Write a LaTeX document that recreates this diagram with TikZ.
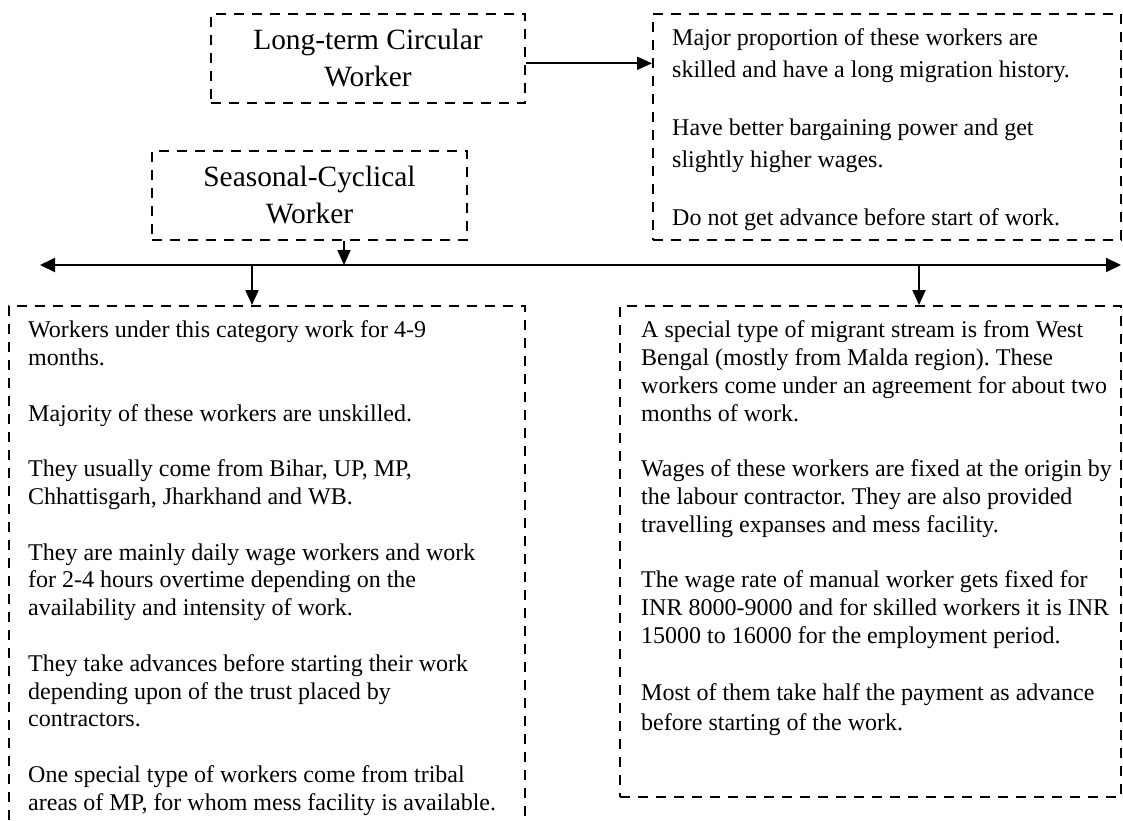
\documentclass[tikz,border=0pt]{standalone}
\usepackage{fontspec}
\setmainfont{Liberation Serif}
\usetikzlibrary{arrows.meta,calc}
\frenchspacing

\tikzset{
  dbox/.style={draw, line width=2pt, dash pattern=on 10pt off 8pt, inner sep=0pt},
  titlebox/.style={dbox, align=center, font=\fontsize{29.4}{37}\selectfont},
  bodytext/.style={anchor=north west, inner sep=0pt, align=left},
  conn/.style={line width=2pt, -{Triangle[length=15pt,width=13pt]}},
  busline/.style={line width=2pt, {Triangle[length=15pt,width=14pt]}-{Triangle[length=15pt,width=14pt]}}
}

\begin{document}
\begin{tikzpicture}[x=1pt, y=-1pt]
\useasboundingbox (0,0) rectangle (1123,820);

% category boxes
\node[titlebox, minimum width=314pt, minimum height=89pt] (b1) at (368,58.5)
  {Long-term Circular\\Worker};
\node[titlebox, minimum width=315pt, minimum height=89pt] (b3) at (309.5,195.5)
  {Seasonal-Cyclical\\Worker};

% description frames
\node[dbox, minimum width=468pt, minimum height=226pt] (b2) at (887,127) {};
\node[dbox, minimum width=516pt, minimum height=534pt] (b4) at (267,573) {};
\node[dbox, minimum width=501pt, minimum height=491pt] (b5) at (870.5,551.5) {};

% description texts
\node[bodytext, font=\fontsize{24}{31.7}\selectfont] (t2)
  at ([xshift=20pt,yshift=-15.6pt]b2.north west)
  {Major proportion of these workers are\\
   skilled and have a long migration history.\\[26.6pt]
   Have better bargaining power and get\\
   slightly higher wages.\\[26.6pt]
   Do not get advance before start of work.};

\node[bodytext, font=\fontsize{24}{27.8}\selectfont] (t4)
  at ([xshift=20pt,yshift=-15.6pt]b4.north west)
  {Workers under this category work for 4-9\\
   months.\\[27.8pt]
   Majority of these workers are unskilled.\\[27.8pt]
   They usually come from Bihar, UP, MP,\\
   Chhattisgarh, Jharkhand and WB.\\[27.8pt]
   They are mainly daily wage workers and work\\
   for 2-4 hours overtime depending on the\\
   availability and intensity of work.\\[27.8pt]
   They take advances before starting their work\\
   depending upon of the trust placed by\\
   contractors.\\[27.8pt]
   One special type of workers come from tribal\\
   areas of MP, for whom mess facility is available.};

\node[bodytext, font=\fontsize{24}{27.8}\selectfont] (t5)
  at ([xshift=22pt,yshift=-15.6pt]b5.north west)
  {A special type of migrant stream is from West\\
   Bengal (mostly from Malda region). These\\
   workers come under an agreement for about two\\
   months of work.\\[27.8pt]
   Wages of these workers are fixed at the origin by\\
   the labour contractor. They are also provided\\
   travelling expanses and mess facility.\\[27.8pt]
   The wage rate of manual worker gets fixed for\\
   INR 8000-9000 and for skilled workers it is INR\\
   15000 to 16000 for the employment period.\\[29.5pt]
   Most of them take half the payment as advance\\[1.5pt]
   before starting of the work.};

% connectors
\coordinate (a1) at ([yshift=-4.8pt]b1.east);
\draw[conn] (a1) -- (a1 -| b2.west);

\coordinate (busL) at (40,265);
\coordinate (busR) at (1121,265);
\draw[busline] (busL) -- (busR);

\coordinate (a3) at ([xshift=34.5pt]b3.south);
\draw[conn] (a3) -- (a3 |- busL);

\coordinate (d4) at (252,265);
\draw[conn] (d4) -- (d4 |- b4.north);
\coordinate (d5) at (919,265);
\draw[conn] (d5) -- (d5 |- b5.north);
\end{tikzpicture}
\end{document}
